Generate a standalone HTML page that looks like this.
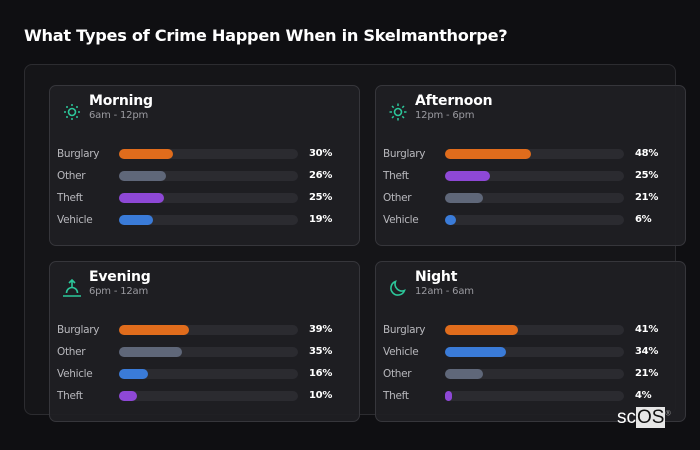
<!DOCTYPE html>
<html><head><meta charset="utf-8"><style>
*{margin:0;padding:0;box-sizing:border-box}
body{width:700px;height:450px;background:#0f0f12;font-family:"DejaVu Sans","Liberation Sans",sans-serif;position:relative;overflow:hidden;color:#fff}
h1{position:absolute;left:24px;top:26px;font-size:16.2px;font-weight:bold;color:#fff;letter-spacing:-0.3px}
.outer{position:absolute;left:24px;top:64px;width:652px;height:351px;background:#151518;border:1px solid #2c2c30;border-radius:8px}
.card{position:absolute;width:311px;height:161px;background:rgba(32,32,36,0.92);border:1px solid #36363b;border-radius:7px}
.ic{position:absolute;left:12px;top:16px;width:20px;height:20px}
.t{position:absolute;left:39px;top:7px;font-size:14px;font-weight:bold;color:#fff;letter-spacing:-0.2px}
.s{position:absolute;left:39px;top:24px;font-size:10px;color:#9a9aa0;letter-spacing:-0.2px}
.row{position:absolute;left:7px;height:12px;width:300px}
.row .l{position:absolute;left:0;top:0;font-size:10.5px;color:#b8b8bd;line-height:12px;letter-spacing:-0.3px}
.row .tr{position:absolute;left:62px;top:1px;width:179px;height:10px;border-radius:5px;background:#2b2b30}
.row .b{position:absolute;left:0;top:0;height:10px;border-radius:5px}
.row .p{position:absolute;left:252px;top:0;font-size:10px;font-weight:bold;color:#fff;line-height:12px;letter-spacing:-0.3px}
.o{background:#e06c1c}.g{background:#5f6779}.pu{background:#8e48d6}.bl{background:#3a7bd8}
.logo{position:absolute;left:617px;top:407px;font-family:"Liberation Sans",sans-serif;font-size:19px;color:#fff}
.logo span{background:#e6e6e6;color:#111;padding:0 1px}
</style></head><body>
<h1>What Types of Crime Happen When in Skelmanthorpe?</h1>
<div class="outer"></div>

<div class="card" style="left:49px;top:85px">
<svg class="ic" viewBox="0 0 20 20"><circle cx="10" cy="10" r="3.5" fill="none" stroke="#2cc79a" stroke-width="1.6"/><g fill="#2cc79a"><circle cx="10" cy="3" r="1"/><circle cx="10" cy="17" r="1"/><circle cx="3" cy="10" r="1"/><circle cx="17" cy="10" r="1"/><circle cx="5" cy="5" r="1"/><circle cx="15" cy="5" r="1"/><circle cx="5" cy="15" r="1"/><circle cx="15" cy="15" r="1"/></g></svg>
<div class="t">Morning</div><div class="s">6am - 12pm</div>
<div class="row" style="top:62px"><div class="l">Burglary</div><div class="tr"><div class="b o" style="width:30%"></div></div><div class="p">30%</div></div>
<div class="row" style="top:84px"><div class="l">Other</div><div class="tr"><div class="b g" style="width:26%"></div></div><div class="p">26%</div></div>
<div class="row" style="top:106px"><div class="l">Theft</div><div class="tr"><div class="b pu" style="width:25%"></div></div><div class="p">25%</div></div>
<div class="row" style="top:128px"><div class="l">Vehicle</div><div class="tr"><div class="b bl" style="width:19%"></div></div><div class="p">19%</div></div>
</div>

<div class="card" style="left:375px;top:85px">
<svg class="ic" viewBox="0 0 20 20"><circle cx="10" cy="10" r="3.5" fill="none" stroke="#2cc79a" stroke-width="1.6"/><g stroke="#2cc79a" stroke-width="1.5"><line x1="10" y1="1.5" x2="10" y2="4"/><line x1="10" y1="16" x2="10" y2="18.5"/><line x1="1.5" y1="10" x2="4" y2="10"/><line x1="16" y1="10" x2="18.5" y2="10"/><line x1="4" y1="4" x2="5.7" y2="5.7"/><line x1="16" y1="4" x2="14.3" y2="5.7"/><line x1="4" y1="16" x2="5.7" y2="14.3"/><line x1="16" y1="16" x2="14.3" y2="14.3"/></g></svg>
<div class="t">Afternoon</div><div class="s">12pm - 6pm</div>
<div class="row" style="top:62px"><div class="l">Burglary</div><div class="tr"><div class="b o" style="width:48%"></div></div><div class="p">48%</div></div>
<div class="row" style="top:84px"><div class="l">Theft</div><div class="tr"><div class="b pu" style="width:25%"></div></div><div class="p">25%</div></div>
<div class="row" style="top:106px"><div class="l">Other</div><div class="tr"><div class="b g" style="width:21%"></div></div><div class="p">21%</div></div>
<div class="row" style="top:128px"><div class="l">Vehicle</div><div class="tr"><div class="b bl" style="width:6%"></div></div><div class="p">6%</div></div>
</div>

<div class="card" style="left:49px;top:261px">
<svg class="ic" viewBox="0 0 20 20"><g stroke="#2cc79a" stroke-width="1.6" fill="none"><path d="M10 9V2M7 5l3-3 3 3"/><path d="M4.5 15a5.5 5.5 0 0 1 11 0"/><line x1="1" y1="18" x2="19" y2="18"/></g></svg>
<div class="t">Evening</div><div class="s">6pm - 12am</div>
<div class="row" style="top:62px"><div class="l">Burglary</div><div class="tr"><div class="b o" style="width:39%"></div></div><div class="p">39%</div></div>
<div class="row" style="top:84px"><div class="l">Other</div><div class="tr"><div class="b g" style="width:35%"></div></div><div class="p">35%</div></div>
<div class="row" style="top:106px"><div class="l">Vehicle</div><div class="tr"><div class="b bl" style="width:16%"></div></div><div class="p">16%</div></div>
<div class="row" style="top:128px"><div class="l">Theft</div><div class="tr"><div class="b pu" style="width:10%"></div></div><div class="p">10%</div></div>
</div>

<div class="card" style="left:375px;top:261px">
<svg class="ic" viewBox="0 0 20 20"><path d="M16.5 12.5A7 7 0 0 1 7.5 3.5a7 7 0 1 0 9 9z" fill="none" stroke="#2cc79a" stroke-width="1.6"/></svg>
<div class="t">Night</div><div class="s">12am - 6am</div>
<div class="row" style="top:62px"><div class="l">Burglary</div><div class="tr"><div class="b o" style="width:41%"></div></div><div class="p">41%</div></div>
<div class="row" style="top:84px"><div class="l">Vehicle</div><div class="tr"><div class="b bl" style="width:34%"></div></div><div class="p">34%</div></div>
<div class="row" style="top:106px"><div class="l">Other</div><div class="tr"><div class="b g" style="width:21%"></div></div><div class="p">21%</div></div>
<div class="row" style="top:128px"><div class="l">Theft</div><div class="tr"><div class="b pu" style="width:4%"></div></div><div class="p">4%</div></div>
</div>

<div class="logo">sc<span>OS</span><sup style="font-size:7px;color:#aaa">®</sup></div>
</body></html>
